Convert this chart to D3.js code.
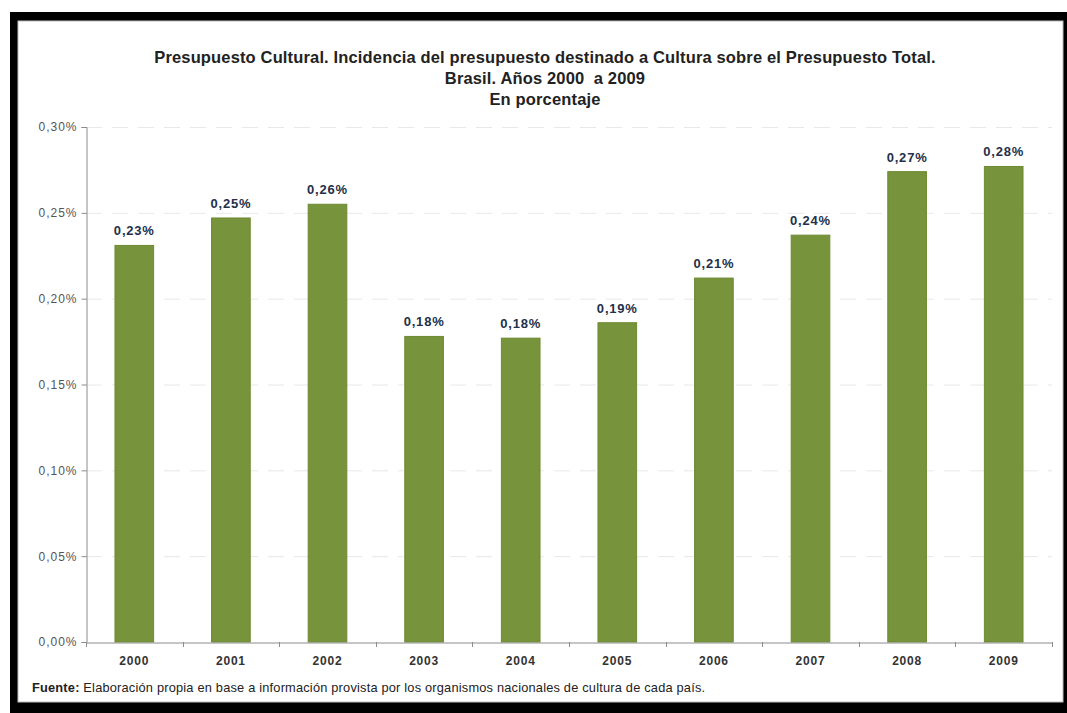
<!DOCTYPE html>
<html>
<head>
<meta charset="utf-8">
<script src="https://cdn.jsdelivr.net/npm/d3@7"></script>
<style>
  html, body { margin: 0; padding: 0; background: #fff; }
  svg { display: block; }
  text { font-family: "Liberation Sans", Arial, sans-serif; white-space: pre; }
</style>
</head>
<body>
<svg id="chart" width="1067" height="713"></svg>
<script>
const years = ["2000", "2001", "2002", "2003", "2004", "2005", "2006", "2007", "2008", "2009"];
const values = [0.231, 0.247, 0.255, 0.178, 0.177, 0.186, 0.212, 0.237, 0.274, 0.277];
const valueLabels = ["0,23%", "0,25%", "0,26%", "0,18%", "0,18%", "0,19%", "0,21%", "0,24%", "0,27%", "0,28%"];
const yTicks = [0, 0.05, 0.10, 0.15, 0.20, 0.25, 0.30];
const yTickLabels = ["0,00%", "0,05%", "0,10%", "0,15%", "0,20%", "0,25%", "0,30%"];
const titleLines = [
  "Presupuesto Cultural. Incidencia del presupuesto destinado a Cultura sobre el Presupuesto Total.",
  "Brasil. Años 2000  a 2009",
  "En porcentaje"
];
const sourceBold = "Fuente:";
const sourceText = " Elaboración propia en base a información provista por los organismos nacionales de cultura de cada país.";

const svg = d3.select("#chart");

// frame
svg.append("rect").attr("x", 10).attr("y", 12).attr("width", 1057).attr("height", 701).attr("fill", "#000");
svg.append("rect").attr("x", 18).attr("y", 21).attr("width", 1045).attr("height", 681)
  .attr("fill", "#fff").attr("stroke", "#bdbdbd").attr("stroke-width", 1);

const x = d3.scaleBand().domain(years).range([86, 1052]).paddingInner(0.6).paddingOuter(0.3);
const y = d3.scaleLinear().domain([0, 0.30]).range([642, 127]);
const step = x.step();

// gridlines
svg.append("g").selectAll("line").data(yTicks.slice(1)).join("line")
  .attr("x1", 86).attr("x2", 1052)
  .attr("y1", d => y(d) + 0.5).attr("y2", d => y(d) + 0.5)
  .attr("stroke", "#e8e8e8").attr("stroke-width", 1).attr("stroke-dasharray", "16,10");

// bars
svg.append("g").selectAll("rect").data(years).join("rect")
  .attr("x", d => x(d))
  .attr("y", (d, i) => y(values[i]))
  .attr("width", x.bandwidth())
  .attr("height", (d, i) => y(0) - y(values[i]))
  .attr("fill", "#77933c")
  .attr("stroke", "#6d8a33").attr("stroke-width", 1);

// value labels
svg.append("g").selectAll("text").data(years).join("text")
  .attr("x", d => x(d) + x.bandwidth() / 2)
  .attr("y", (d, i) => y(values[i]) - 10)
  .attr("text-anchor", "middle")
  .attr("font-size", 13).attr("letter-spacing", 0.8).attr("font-weight", "bold").attr("fill", "#23304a")
  .text((d, i) => valueLabels[i]);

// y axis
const yAxis = svg.append("g").attr("transform", "translate(86.5,0)")
  .call(d3.axisLeft(y).tickValues(yTicks).tickFormat((d, i) => yTickLabels[i]).tickSize(5).tickPadding(4));
yAxis.select(".domain").attr("stroke", "#8c8c8c");
yAxis.selectAll(".tick line").attr("stroke", "#8c8c8c");
yAxis.selectAll(".tick text").attr("font-size", 12).attr("letter-spacing", 1).attr("fill", "#555")
  .attr("font-family", "\"Liberation Sans\", Arial, sans-serif");

// x axis
const xAxis = svg.append("g").attr("transform", "translate(0,642.5)")
  .call(d3.axisBottom(x).tickSize(0).tickPadding(14));
xAxis.select(".domain").attr("stroke", "#8c8c8c");
xAxis.selectAll(".tick text").attr("font-size", 12).attr("letter-spacing", 0.8).attr("font-weight", "bold").attr("fill", "#333")
  .attr("font-family", "\"Liberation Sans\", Arial, sans-serif");
// category boundary ticks
const bounds = years.map(d => x(d) - step * 0.3).concat([x(years[years.length - 1]) + x.bandwidth() + step * 0.3]);
svg.append("g").selectAll("line").data(bounds).join("line")
  .attr("x1", d => Math.round(d) + 0.5).attr("x2", d => Math.round(d) + 0.5)
  .attr("y1", 642).attr("y2", 647)
  .attr("stroke", "#8c8c8c");

// title
svg.append("g").selectAll("text").data(titleLines).join("text")
  .attr("x", 545).attr("y", (d, i) => 63 + i * 21)
  .attr("text-anchor", "middle")
  .attr("font-size", 16.5).attr("letter-spacing", 0.15).attr("font-weight", "bold").attr("fill", "#222")
  .text(d => d);

// source
const src = svg.append("text").attr("x", 32).attr("y", 692).attr("font-size", 12.8).attr("letter-spacing", 0.2).attr("fill", "#222");
src.append("tspan").attr("font-weight", "bold").text(sourceBold);
src.append("tspan").text(sourceText);
</script>
</body>
</html>
